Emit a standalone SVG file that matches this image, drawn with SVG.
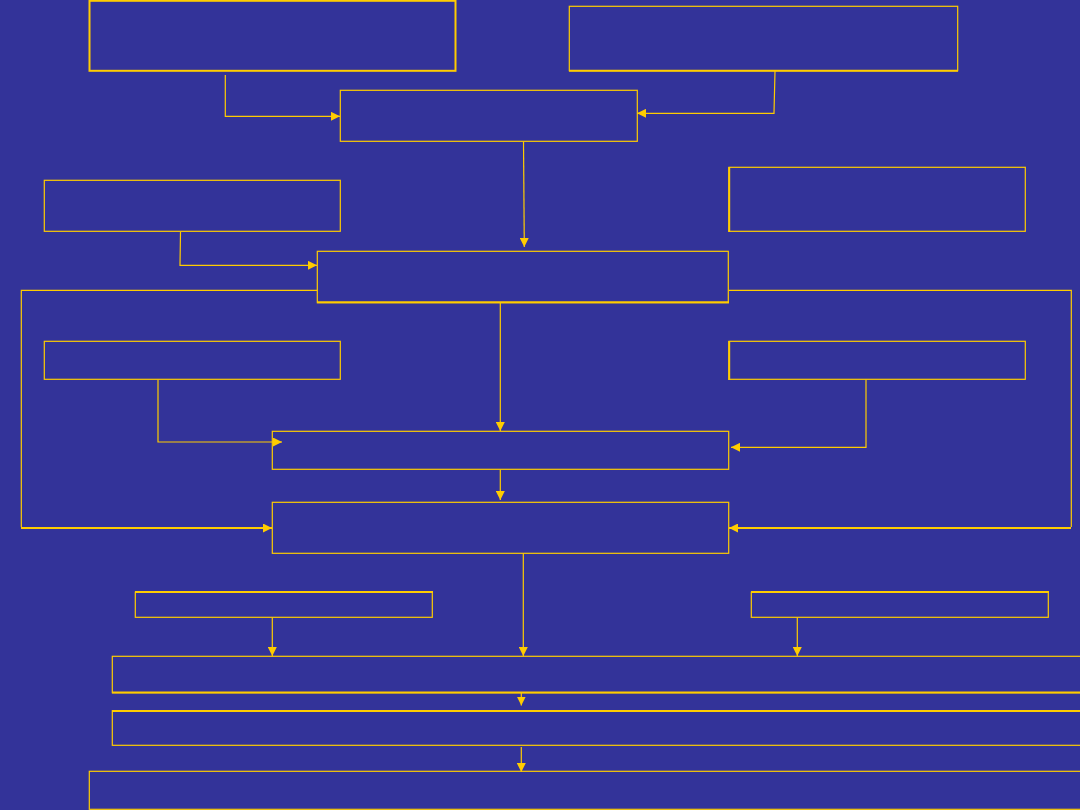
<svg xmlns="http://www.w3.org/2000/svg" width="1080" height="810" viewBox="0 0 1080 810">
<defs>
<style>
.box{fill:none;stroke:#FFCC00;stroke-width:1.2}
.thick{fill:none;stroke:#FFCC00;stroke-width:2}
.ln{fill:none;stroke:#FFCC00;stroke-width:1.2}
.ln2{fill:none;stroke:#FFCC00;stroke-width:2}
.arr{marker-end:url(#ah)}
</style>
<marker id="ah" markerUnits="userSpaceOnUse" markerWidth="9" markerHeight="9" refX="9" refY="4.5" orient="auto">
<path d="M0,0 L9,4.5 L0,9 z" fill="#FFCC00"/>
</marker>
</defs>
<rect x="0" y="0" width="1080" height="810" fill="#333399"/>
<g id="connectors">
<polyline class="ln arr" points="225.3,75 225.3,116.3 340,116.3"/>
<polyline class="ln arr" points="775,71 774,113.3 637,113.3"/>
<polyline class="ln arr" points="523.5,141.5 524.3,247"/>
<polyline class="ln arr" points="180.5,232 180,265.3 317,265.3"/>
<polyline class="ln" points="317.3,290.3 21.3,290.3 21.3,527"/>
<polyline class="ln" points="728.7,290.3 1071.3,290.3 1071.3,527"/>
<polyline class="ln2 arr" points="21,528 272,528"/>
<polyline class="ln2 arr" points="1071,528 729,528"/>
<polyline class="ln arr" points="158,379.5 158,442 282,442"/>
<polyline class="ln arr" points="866,379.5 866,447.3 731,447.3"/>
<polyline class="ln arr" points="500.3,303 500.3,431"/>
<polyline class="ln arr" points="500.3,469.5 500.3,500"/>
<polyline class="ln arr" points="523.3,553.5 523.3,656"/>
<polyline class="ln arr" points="272.3,617.5 272.3,656"/>
<polyline class="ln arr" points="797.3,617.5 797.3,656"/>
<polyline class="ln arr" points="521.3,693 521.3,705.5"/>
<polyline class="ln arr" points="521.3,747 521.3,772"/>
</g>
<g id="nodeA"><rect class="box" x="89.5" y="0.8" width="366" height="70" style="stroke-width:2"/></g>
<g id="nodeB"><rect class="box" x="569.3" y="6.3" width="388.4" height="64.4"/><line class="ln2" x1="569" y1="70.7" x2="958" y2="70.7"/></g>
<g id="nodeC"><rect class="box" x="340.3" y="90.3" width="297" height="51"/></g>
<g id="nodeD"><rect class="box" x="317.3" y="251.3" width="411" height="51.4"/><line class="ln2" x1="317" y1="302.3" x2="729" y2="302.3"/></g>
<g id="nodeE"><rect class="box" x="44.3" y="180.3" width="296" height="51"/></g>
<g id="nodeF"><rect class="box" x="729" y="167.3" width="296.3" height="64"/><line class="ln2" x1="729.2" y1="167" x2="729.2" y2="232"/></g>
<g id="nodeG"><rect class="box" x="44.3" y="341.3" width="296" height="38"/></g>
<g id="nodeH"><rect class="box" x="729" y="341.3" width="296.3" height="38"/><line class="ln2" x1="729.2" y1="341" x2="729.2" y2="380"/></g>
<g id="nodeI"><rect class="box" x="272.3" y="431.3" width="456.4" height="38"/></g>
<g id="nodeJ"><rect class="box" x="272.3" y="502.3" width="456.4" height="51"/></g>
<g id="nodeL"><rect class="box" x="135.3" y="592.3" width="297" height="25"/><line class="ln2" x1="135" y1="592" x2="433" y2="592"/></g>
<g id="nodeM"><rect class="box" x="751.3" y="592.3" width="297" height="25"/><line class="ln2" x1="751" y1="592" x2="1049" y2="592"/></g>
<g id="nodeK"><rect class="box" x="112.3" y="656.3" width="980" height="36.4"/><line class="ln2" x1="112" y1="692.5" x2="1080" y2="692.5"/></g>
<g id="nodeN"><rect class="box" x="112.3" y="710.7" width="980" height="34.6"/><line class="ln2" x1="112" y1="711" x2="1080" y2="711"/></g>
<g id="nodeO"><rect class="box" x="89.3" y="771.3" width="1000" height="38"/></g>
</svg>
